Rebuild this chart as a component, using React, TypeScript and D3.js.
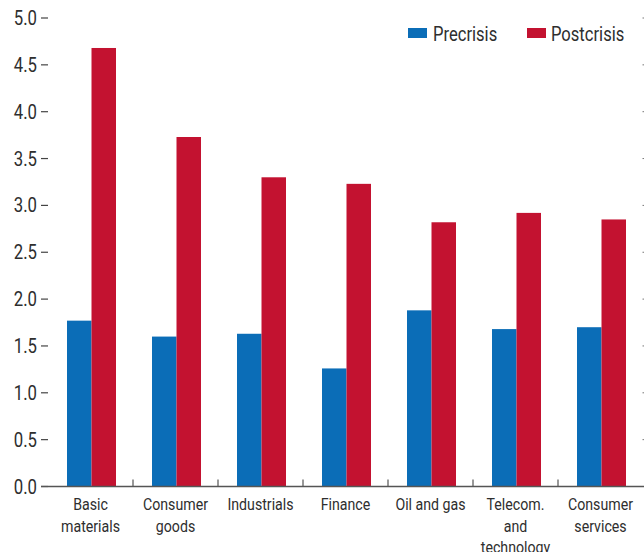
import React from "react";
import * as d3 from "d3";

const categories: string[][] = [
  ["Basic", "materials"],
  ["Consumer", "goods"],
  ["Industrials"],
  ["Finance"],
  ["Oil and gas"],
  ["Telecom.", "and", "technology"],
  ["Consumer", "services"],
];
const seriesNames = ["Precrisis", "Postcrisis"];
const precrisis = [1.77, 1.6, 1.63, 1.26, 1.88, 1.68, 1.7];
const postcrisis = [4.68, 3.73, 3.3, 3.23, 2.82, 2.92, 2.85];
const yTicks = [0, 0.5, 1, 1.5, 2, 2.5, 3, 3.5, 4, 4.5, 5];
const colors = ["#0b6db7", "#c31230"];

const W = 644;
const H = 552;
const FONT = "Roboto, 'Liberation Sans', sans-serif";
const SX = 0.86;
const textColor = "#2e2e2e";

function CText(props: {
  x: number;
  y: number;
  size: number;
  anchor?: "start" | "middle" | "end";
  dy?: string;
  sx?: number;
  children: React.ReactNode;
}) {
  return (
    <g transform={`translate(${props.x},${props.y}) scale(${props.sx ?? SX},1)`}>
      <text
        x={0}
        y={0}
        dy={props.dy}
        textAnchor={props.anchor ?? "start"}
        fontSize={props.size}
        fill={textColor}
        fontFamily={FONT}
      >
        {props.children}
      </text>
    </g>
  );
}

export default function App() {
  const keys = categories.map((c) => c.join(" "));
  const x0 = d3.scaleBand<string>().domain(keys).range([48, 643]).padding(0);
  const x1 = d3
    .scaleBand<string>()
    .domain(seriesNames)
    .range([0, x0.bandwidth()])
    .paddingInner(0)
    .paddingOuter(0.735);
  const y = d3.scaleLinear().domain([0, 5]).range([486.5, 18]);
  const fmt = d3.format(".1f");
  const values = [precrisis, postcrisis];

  return (
    <svg
      width={W}
      height={H}
      style={{ position: "absolute", left: 0, top: 0, background: "#fff" }}
    >
      {/* bars */}
      {keys.map((k, i) => (
        <g key={k} transform={`translate(${(x0(k) ?? 0) + 1},0)`}>
          {seriesNames.map((s, j) => (
            <rect
              key={s}
              x={x1(s)}
              y={y(values[j][i])}
              width={x1.bandwidth()}
              height={y(0) - y(values[j][i])}
              fill={colors[j]}
            />
          ))}
        </g>
      ))}

      {/* y axis ticks & labels */}
      {yTicks.map((t) => (
        <g key={t}>
          <line x1={41} x2={48} y1={y(t)} y2={y(t)} stroke="#444" strokeWidth={1.2} />
          <CText x={37} y={y(t)} dy="0.36em" anchor="end" size={19.5}>
            {fmt(t)}
          </CText>
          {t > 0 && (
            <line x1={642.5} x2={648} y1={y(t)} y2={y(t)} stroke="#777" strokeWidth={1} />
          )}
        </g>
      ))}

      {/* baseline */}
      <line x1={41} x2={644} y1={y(0)} y2={y(0)} stroke="#555" strokeWidth={1.5} />

      {/* category separators */}
      {keys.slice(1).map((k) => (
        <line
          key={k}
          x1={x0(k)}
          x2={x0(k)}
          y1={y(0)}
          y2={y(0) - 7}
          stroke="#555"
          strokeWidth={1.2}
        />
      ))}

      {/* category labels */}
      {categories.map((lines, i) =>
        lines.map((l, li) => (
          <CText
            key={keys[i] + li}
            x={(x0(keys[i]) ?? 0) + x0.bandwidth() / 2}
            y={510 + li * 21.5}
            anchor="middle"
            size={16.5}
          >
            {l}
          </CText>
        ))
      )}

      {/* legend */}
      <g>
        <rect x={408} y={28} width={19} height={10} fill={colors[0]} />
        <CText x={433} y={41} size={20} sx={0.83}>
          {seriesNames[0]}
        </CText>
        <rect x={527} y={28} width={19} height={10} fill={colors[1]} />
        <CText x={551} y={41} size={20} sx={0.83}>
          {seriesNames[1]}
        </CText>
      </g>
    </svg>
  );
}
